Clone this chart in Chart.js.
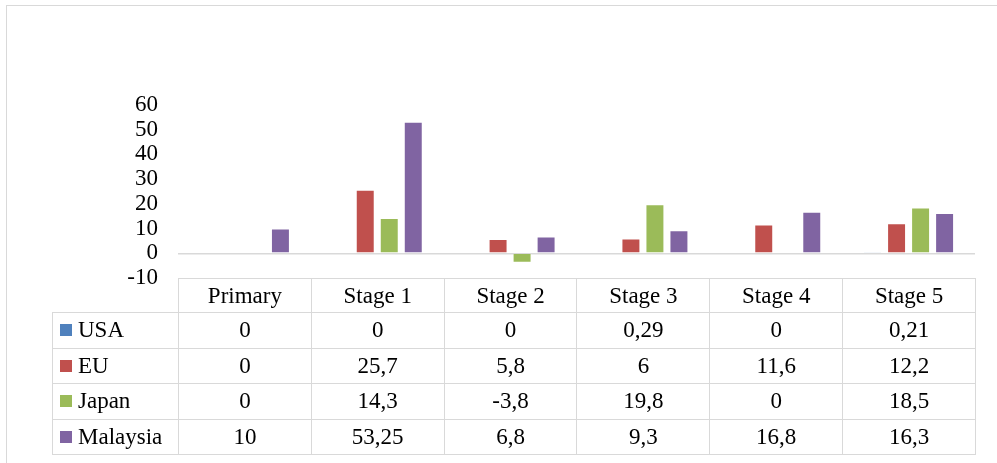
<!DOCTYPE html>
<html lang="en">
<head>
<meta charset="UTF-8">
<title>Chart</title>
<script src="https://cdn.jsdelivr.net/npm/chart.js@4.4.1/dist/chart.umd.min.js"></script>
<style>
    html, body { margin:0; padding:0; background:#fff; overflow:hidden; }
    #board { position:relative; width:997px; height:463px; }
    #frame { position:absolute; left:6px; top:5px; width:1200px; height:800px; border:1px solid #d9d9d9; }
    #chart1 { position:absolute; left:0; top:0; }
    #tbl { position:absolute; border-collapse:collapse; table-layout:fixed;
           font-family:"Liberation Serif","Times New Roman",serif; font-size:23px; color:#000; }
    #tbl td, #tbl th { border:1.5px solid #d9d9d9; text-align:center; font-weight:normal; padding:0; white-space:nowrap; }
    #tbl th.corner { border-top:none; border-left:none; }
    #tbl td.name { text-align:left; padding-left:7px; }
    .key { display:inline-block; width:12px; height:12px; margin-right:6px; vertical-align:1px; }
</style>
</head>
<body>
<div id="board">
    <div id="frame"></div>
    <canvas id="chart1" width="997" height="463"></canvas>
    <table id="tbl"></table>
</div>
<script>
    const categories = ['Primary', 'Stage 1', 'Stage 2', 'Stage 3', 'Stage 4', 'Stage 5'];
    const usa      = [0, 0, 0, 0.29, 0, 0.21];
    const eu       = [0, 25.7, 5.8, 6, 11.6, 12.2];
    const japan    = [0, 14.3, -3.8, 19.8, 0, 18.5];
    const malaysia = [10, 53.25, 6.8, 9.3, 16.8, 16.3];
    const seriesNames = ['USA', 'EU', 'Japan', 'Malaysia'];
    const yMin = -10, yMax = 60, yStep = 10;

    const colors = ['#4f81bd', '#c0504d', '#9bbb59', '#8064a2'];
    const series = [usa, eu, japan, malaysia];
    const serif = '"Liberation Serif", "Times New Roman", serif';

    const ctx = document.getElementById('chart1').getContext('2d');
    const chart = new Chart(ctx, {
        type: 'bar',
        data: {
            labels: categories,
            datasets: series.map((s, i) => ({
                label: seriesNames[i],
                data: s,
                backgroundColor: colors[i],
                borderColor: 'rgba(255,255,255,0.55)',
                borderWidth: 1,
                categoryPercentage: 0.723,
                barPercentage: 0.79
            }))
        },
        options: {
            responsive: false,
            animation: false,
            layout: { padding: { left: 0, right: 22, top: 105, bottom: 185 } },
            plugins: { legend: { display: false }, tooltip: { enabled: false } },
            scales: {
                x: { display: false },
                y: {
                    min: yMin, max: yMax,
                    afterFit: (scale) => { scale.width = 178; },
                    border: { display: false },
                    grid: {
                        drawTicks: false,
                        lineWidth: 1.5,
                        color: (c) => c.tick && c.tick.value === 0 ? '#d9d9d9' : 'rgba(0,0,0,0)'
                    },
                    ticks: {
                        stepSize: yStep,
                        autoSkip: false,
                        padding: 20,
                        color: '#000',
                        font: { family: serif, size: 23, lineHeight: 1 }
                    }
                }
            }
        }
    });

    // data table under the plot, columns follow the x scale
    const fmt = (v) => String(v).replace('.', ',');
    const area = chart.chartArea;
    const xs = chart.scales.x;
    const catW = (area.right - area.left) / categories.length;
    const tableLeft = 52;
    const tbl = document.getElementById('tbl');
    let html = '<colgroup><col style="width:' + (area.left - tableLeft) + 'px">';
    categories.forEach(() => { html += '<col style="width:' + catW + 'px">'; });
    html += '</colgroup><tr style="height:34px"><th class="corner"></th>';
    categories.forEach(c => { html += '<th>' + c + '</th>'; });
    html += '</tr>';
    series.forEach((s, i) => {
        html += '<tr style="height:35.5px"><td class="name"><span class="key" style="background:' + colors[i] + '"></span>' + seriesNames[i] + '</td>';
        s.forEach(v => { html += '<td>' + fmt(v) + '</td>'; });
        html += '</tr>';
    });
    tbl.innerHTML = html;
    tbl.style.left = tableLeft + 'px';
    tbl.style.top = area.bottom + 'px';
    tbl.style.width = (xs.right - tableLeft) + 'px';
</script>
</body>
</html>
